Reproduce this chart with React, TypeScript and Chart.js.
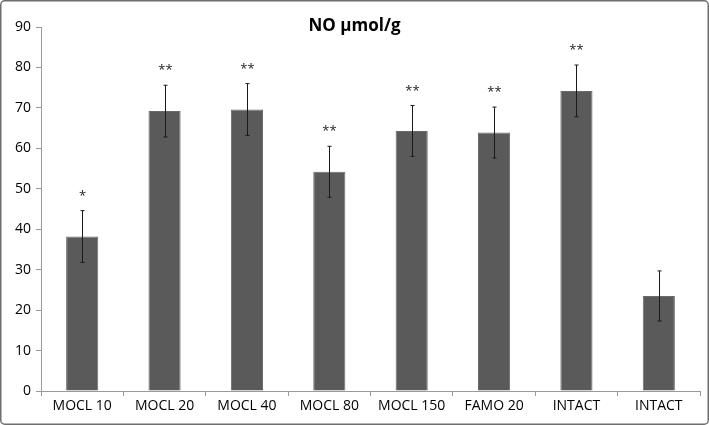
import React, { useEffect, useRef } from "react";
import { Chart, registerables } from "chart.js";
Chart.register(...registerables);

const categories = ["MOCL 10", "MOCL 20", "MOCL 40", "MOCL 80", "MOCL 150", "FAMO 20", "INTACT", "INTACT"];
const values = [38.2, 69.2, 69.6, 54.2, 64.3, 63.9, 74.2, 23.5];
const errors = [6.4, 6.4, 6.4, 6.3, 6.3, 6.3, 6.4, 6.2];
const marks = ["*", "**", "**", "**", "**", "**", "**", ""];
const yTicks = [0, 10, 20, 30, 40, 50, 60, 70, 80, 90];
const titleText = "NO \u03bcmol/g";

const FONT = "'Open Sans', 'Noto Sans', sans-serif";

const decor = {
  id: "decor",
  beforeDraw(chart: any) {
    const ctx = chart.ctx;
    ctx.save();
    ctx.fillStyle = "#ffffff";
    ctx.fillRect(0, 0, chart.width, chart.height);
    ctx.strokeStyle = "#6e6e6e";
    ctx.lineWidth = 1.5;
    const r = 4;
    const x = 0.75, y = 0.75, w = chart.width - 1.5, h = chart.height - 1.5;
    ctx.beginPath();
    ctx.moveTo(x + r, y);
    ctx.lineTo(x + w - r, y);
    ctx.arcTo(x + w, y, x + w, y + r, r);
    ctx.lineTo(x + w, y + h - r);
    ctx.arcTo(x + w, y + h, x + w - r, y + h, r);
    ctx.lineTo(x + r, y + h);
    ctx.arcTo(x, y + h, x, y + h - r, r);
    ctx.lineTo(x, y + r);
    ctx.arcTo(x, y, x + r, y, r);
    ctx.stroke();
    ctx.restore();
  },
  afterDatasetsDraw(chart: any) {
    const ctx = chart.ctx;
    const xs = chart.scales.x;
    const ys = chart.scales.y;
    ctx.save();
    ctx.strokeStyle = "#1a1a1a";
    ctx.lineWidth = 1;
    values.forEach((v, i) => {
      const cx = Math.round(xs.getPixelForValue(i)) + 0.5;
      const top = ys.getPixelForValue(v + errors[i]);
      const bot = ys.getPixelForValue(v - errors[i]);
      ctx.beginPath();
      ctx.moveTo(cx, top);
      ctx.lineTo(cx, bot);
      ctx.moveTo(cx - 2, top);
      ctx.lineTo(cx + 2, top);
      ctx.moveTo(cx - 2, bot);
      ctx.lineTo(cx + 2, bot);
      ctx.stroke();
      if (marks[i]) {
        ctx.fillStyle = "#222";
        ctx.font = `13px ${FONT}`;
        ctx.textAlign = "center";
        ctx.textBaseline = "middle";
        ctx.fillText(marks[i], cx, ys.getPixelForValue(v + errors[i] + 3.6));
      }
    });
    ctx.fillStyle = "#000";
    ctx.font = `bold 17px ${FONT}`;
    ctx.textAlign = "center";
    ctx.textBaseline = "middle";
    ctx.fillText(titleText, chart.width / 2, 26);
    ctx.restore();
  },
};

export default function App() {
  const ref = useRef<HTMLCanvasElement>(null);
  useEffect(() => {
    document.body.style.margin = "0";
    const chart = new Chart(ref.current!, {
      type: "bar",
      data: {
        labels: categories,
        datasets: [
          {
            data: values,
            backgroundColor: "#5a5a5a",
            borderColor: "#6a6a6a",
            borderWidth: 1,
            categoryPercentage: 1,
            barPercentage: 0.39,
          },
        ],
      },
      options: {
        animation: false,
        responsive: false,
        maintainAspectRatio: false,
        layout: { padding: { top: 27, right: 9, left: 0, bottom: 0 } },
        plugins: { legend: { display: false }, title: { display: false }, tooltip: { enabled: false } },
        scales: {
          x: {
            grid: { display: true, drawOnChartArea: false, drawTicks: true, tickLength: 5, color: "#9a9a9a", offset: true },
            border: { display: true, color: "#9a9a9a" },
            ticks: { color: "#000", font: { family: FONT, size: 14 }, padding: 2, maxRotation: 0, autoSkip: false },
            afterFit: (s: any) => { s.height = 34; },
          },
          y: {
            min: 0,
            max: 90,
            afterBuildTicks: (s: any) => { s.ticks = yTicks.map((v) => ({ value: v })); },
            grid: { display: true, drawOnChartArea: false, drawTicks: true, tickLength: 5, color: "#9a9a9a" },
            border: { display: true, color: "#9a9a9a" },
            ticks: { color: "#000", font: { family: FONT, size: 14 }, padding: 5 },
            afterFit: (s: any) => { s.width = 41; },
          },
        },
      },
      plugins: [decor],
    });
    return () => chart.destroy();
  }, []);
  return <canvas ref={ref} width={709} height={425} style={{ display: "block" }} />;
}
